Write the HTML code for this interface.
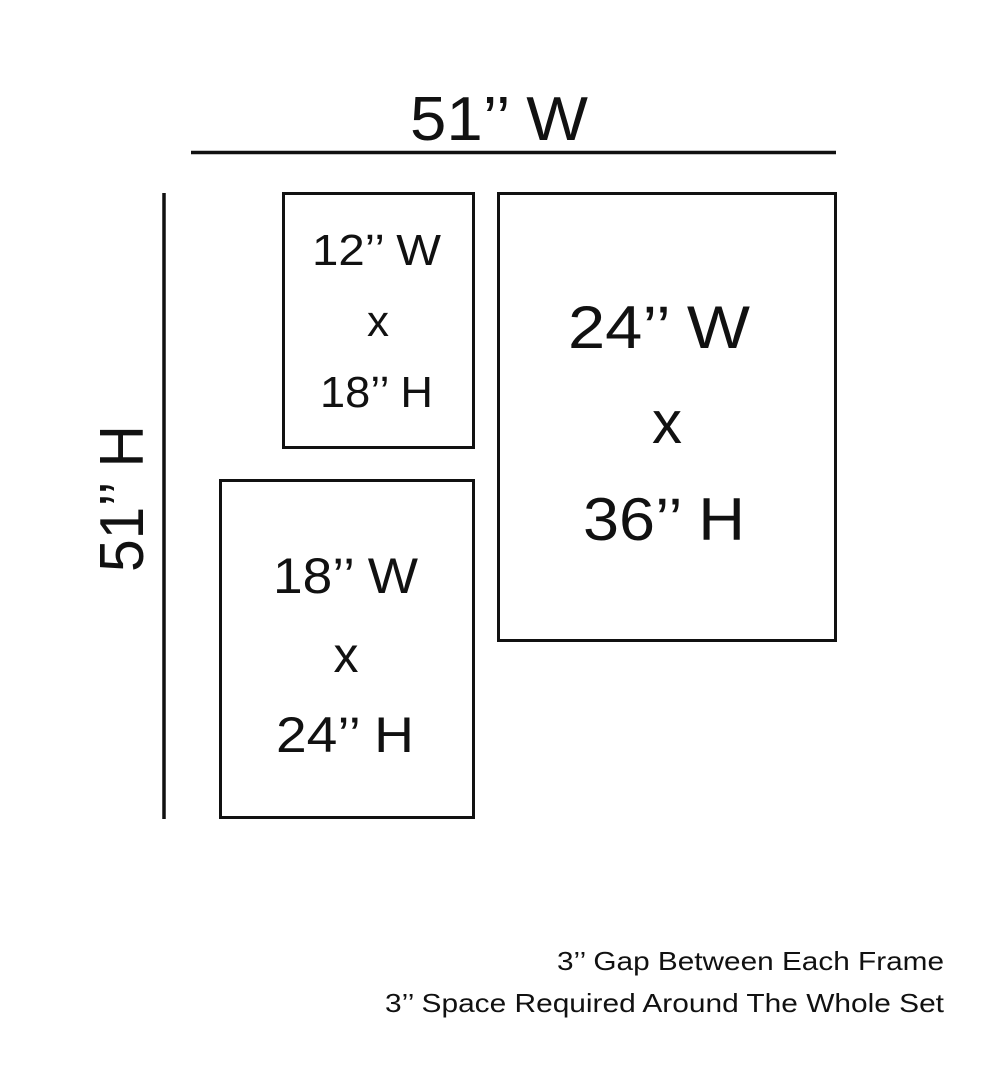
<!DOCTYPE html>
<html><head><style>html,body{margin:0;padding:0;background:#fff}</style></head>
<body>
<svg width="1000" height="1081" xmlns="http://www.w3.org/2000/svg" font-family="Liberation Sans, sans-serif" fill="#111">
<rect width="1000" height="1081" fill="#fff"/>
<line x1="191" y1="152.5" x2="836" y2="152.5" stroke="#111" stroke-width="3.5"/>
<line x1="164" y1="193" x2="164" y2="819" stroke="#111" stroke-width="3.5"/>
<rect x="283.5" y="193.5" width="190" height="254" fill="none" stroke="#111" stroke-width="3"/>
<rect x="498.5" y="193.5" width="337" height="447" fill="none" stroke="#111" stroke-width="3"/>
<rect x="220.5" y="480.5" width="253" height="337" fill="none" stroke="#111" stroke-width="3"/>
<g lengthAdjust="spacingAndGlyphs">
<text x="410" y="140" font-size="62" textLength="178" lengthAdjust="spacingAndGlyphs">51’’ W</text>
<text x="312" y="265" font-size="44" textLength="129" lengthAdjust="spacingAndGlyphs">12’’ W</text>
<text x="378" y="336" font-size="44" text-anchor="middle">x</text>
<text x="320" y="407" font-size="44" textLength="113" lengthAdjust="spacingAndGlyphs">18’’ H</text>
<text x="568" y="348" font-size="60" textLength="182" lengthAdjust="spacingAndGlyphs">24’’ W</text>
<text x="667" y="443" font-size="60" text-anchor="middle">x</text>
<text x="583" y="540" font-size="60" textLength="162" lengthAdjust="spacingAndGlyphs">36’’ H</text>
<text x="273" y="593" font-size="50" textLength="145" lengthAdjust="spacingAndGlyphs">18’’ W</text>
<text x="346" y="672" font-size="50" text-anchor="middle">x</text>
<text x="276" y="752" font-size="50" textLength="138" lengthAdjust="spacingAndGlyphs">24’’ H</text>
<text transform="translate(143,572) rotate(-90)" font-size="62" textLength="147" lengthAdjust="spacingAndGlyphs">51’’ H</text>
<text x="557" y="970" font-size="26" textLength="387" lengthAdjust="spacingAndGlyphs">3’’ Gap Between Each Frame</text>
<text x="385" y="1012" font-size="26" textLength="559" lengthAdjust="spacingAndGlyphs">3’’ Space Required Around The Whole Set</text>
</g>
</svg>
</body></html>
